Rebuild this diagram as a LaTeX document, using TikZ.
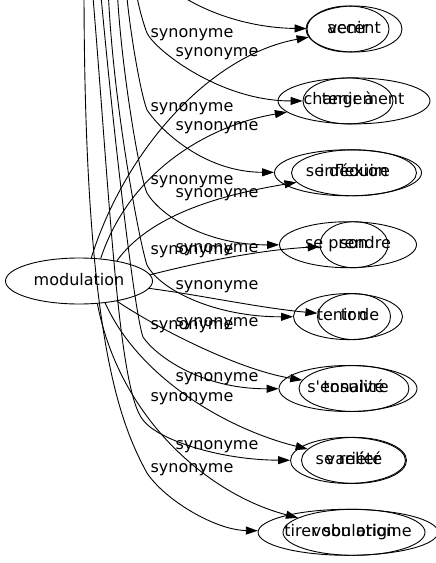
\documentclass[tikz,border=0pt]{standalone}
\usepackage{fontspec}
\setmainfont{DejaVu Sans}
\usetikzlibrary{shapes.geometric, positioning, arrows.meta}

\tikzset{
  word/.style={ellipse, draw, line width=0.9pt, inner sep=0pt, minimum height=46pt, text height=12pt, text depth=4pt, font=\fontsize{16}{19}\selectfont},
  lbl/.style={inner sep=0pt, text height=12pt, text depth=4pt, font=\fontsize{16}{19}\selectfont},
  rel/.style={->, line width=0.9pt}
}

\begin{document}
\begin{tikzpicture}[x=1pt, y=-1pt, >={Stealth[inset=0pt, length=12pt, width=8pt]}, node distance=71.9pt, on grid]
  \clip (0,0) rectangle (436,563);

  \node[word, minimum width=147pt] (mod) at (79,281) {modulation};

  % first column of synonyms
  \node[word, minimum width=96pt] (a1) at (354,29) {accent};
  \node[word, minimum width=152pt, below=of a1] (a2) {changement};
  \node[word, minimum width=125pt, below=of a2] (a3) {inflexion};
  \node[word, minimum width=68pt, below=of a3] (a4) {son};
  \node[word, minimum width=73pt, below=of a4] (a5) {ton};
  \node[word, minimum width=110pt, below=of a5] (a6) {tonalité};
  \node[word, minimum width=105pt, below=of a6] (a7) {variété};
  \node[word, minimum width=142pt, below=of a7] (a8) {vobulation};

  % second column, drawn over the first
  \node[word, minimum width=82pt] (b1) at (348,29) {venir};
  \node[word, minimum width=90pt, below=of b1] (b2) {tenir à};
  \node[word, minimum width=147pt, below=of b2] (b3) {se déduire};
  \node[word, minimum width=137pt, below=of b3] (b4) {se prendre};
  \node[word, minimum width=109pt, below=of b4] (b5) {tenir de};
  \node[word, minimum width=138pt, below=of b5] (b6) {s\textquotesingle ensuivre};
  \node[word, minimum width=115pt, below=of b6] (b7) {se relier};
  \node[word, minimum width=179pt, below=of b7] (b8) {tirer son origine};

  % ends above the frame
  \coordinate (t1) at (160,-20);
  \coordinate (t2) at (135,-15);
  \coordinate (t3) at (126,-15);
  \coordinate (t4) at (117,-15);
  \coordinate (t5) at (108,-15);
  \coordinate (t6) at (100,-15);
  \coordinate (t7) at (92,-15);
  \coordinate (t8) at (84,-15);

  \draw[rel] (mod.62) .. controls (125,150) and (210,55) .. (a1);
  \draw[rel] (mod.46) .. controls (130,170) and (210,125) .. (a2);
  \draw[rel] (mod.28) .. controls (150,215) and (220,195) .. (a3);
  \draw[rel] (mod.5) .. controls (200,262) and (260,250) .. (a4);
  \draw[rel] (mod.-6) .. controls (200,295) and (260,308) .. (a5);
  \draw[rel] (mod.-28) .. controls (160,330) and (240,370) .. (a6);
  \draw[rel] (mod.-40) .. controls (140,380) and (230,430) .. (a7);
  \draw[rel] (mod.-51) .. controls (120,420) and (210,495) .. (a8);

  \draw[rel] (t1) .. controls (200,15) and (255,28) .. (b1);
  \draw[rel] (t2) .. controls (137,0) and (142,20) .. (147,33) .. controls (155,50) and (220,101) .. (b2);
  \draw[rel] (t3) .. controls (128,20) and (140,92) .. (147,110) .. controls (162,132) and (205,172) .. (b3);
  \draw[rel] (t4) .. controls (120,60) and (139,175) .. (147,193) .. controls (160,215) and (205,245) .. (b4);
  \draw[rel] (t5) .. controls (112,100) and (140,245) .. (147,265) .. controls (160,290) and (215,317) .. (b5);
  \draw[rel] (t6) .. controls (115,150) and (135,315) .. (143,337) .. controls (155,355) and (200,389) .. (b6);
  \draw[rel] (t7) .. controls (110,200) and (118,390) .. (143,420) .. controls (158,440) and (220,460) .. (b7);
  \draw[rel] (t8) .. controls (84,330) and (118,420) .. (147,473) .. controls (165,500) and (215,530) .. (b8);

  % edge labels
  \node[lbl] (la1) at (217,52) {synonyme};
  \node[lbl] (la2) at (217,126) {synonyme};
  \node[lbl] (la3) at (217,193) {synonyme};
  \node[lbl] (la4) at (217,248) {synonyme};
  \node[lbl] (la5) at (217,285) {synonyme};
  \node[lbl] (la6) at (217,322) {synonyme};
  \node[lbl] (la7) at (217,377) {synonyme};
  \node[lbl] (la8) at (217,445) {synonyme};
  \node[lbl] (lb2) at (192,33) {synonyme};
  \node[lbl] (lb3) at (192,107) {synonyme};
  \node[lbl] (lb4) at (192,180) {synonyme};
  \node[lbl] (lb5) at (192,250) {synonyme};
  \node[lbl] (lb6) at (192,325) {synonyme};
  \node[lbl] (lb7) at (192,397) {synonyme};
  \node[lbl] (lb8) at (192,468) {synonyme};
\end{tikzpicture}
\end{document}
